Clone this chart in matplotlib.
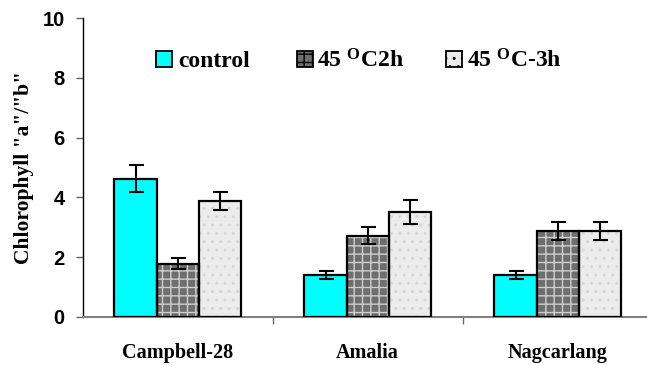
import matplotlib
matplotlib.use("Agg")
import matplotlib.pyplot as plt
import numpy as np
from matplotlib.patches import Rectangle

plt.rcParams['mathtext.fontset'] = 'custom'
plt.rcParams['mathtext.rm'] = 'Liberation Serif:bold'
plt.rcParams['mathtext.it'] = 'Liberation Serif:bold'
plt.rcParams['mathtext.bf'] = 'Liberation Serif:bold'

# Data
cultivars = ["Campbell-28", "Amalia", "Nagcarlang"]
series_names = ["control", r"45 $^{\mathrm{O}}$C2h", r"45 $^{\mathrm{O}}$C-3h"]
control = [4.63, 1.40, 1.40]
t45_2h = [1.78, 2.72, 2.88]
t45_3h = [3.88, 3.52, 2.88]
err_control = [0.45, 0.14, 0.14]
err_2h = [0.18, 0.28, 0.30]
err_3h = [0.30, 0.40, 0.30]
yticks = [0, 2, 4, 6, 8, 10]

W, H = 647, 365
fig = plt.figure(figsize=(W / 100, H / 100), dpi=100)
ax = fig.add_axes([82.7 / W, 48 / H, 570 / W, 299 / H])

centers = np.arange(len(cultivars)) + 0.5
bw = 0.222
values = [control, t45_2h, t45_3h]
errs = [err_control, err_2h, err_3h]
faces = ["#00ffff", "#6e6e6e", "#ececec"]
hatches = [None, "++", ".."]
hatch_cols = ["none", "#cfcfcf", "#d6d6d6"]

for i, (vals, e) in enumerate(zip(values, errs)):
    x = centers + (i - 1) * bw
    ax.bar(x, vals, bw, color=faces[i], hatch=hatches[i],
           edgecolor=hatch_cols[i], linewidth=0, zorder=2)
    ax.bar(x, vals, bw, fill=False, edgecolor="black", linewidth=1.6, zorder=3)
    ax.errorbar(x, vals, yerr=e, fmt="none", ecolor="black",
                elinewidth=1.5, capsize=5.4, capthick=1.5, zorder=4)

ax.set_xlim(0, 3)
ax.set_ylim(0, 10)
ax.set_yticks(yticks)
ax.set_yticklabels([str(v) for v in yticks], family="Liberation Sans",
                   fontweight="bold", fontsize=14.5)
ax.tick_params(axis="y", direction="out", length=5, width=1, color="#666666", pad=8)

ax.set_xticks(centers)
ax.set_xticklabels(cultivars, family="Liberation Serif", fontweight="bold", fontsize=14.5)
ax.tick_params(axis="x", length=0, pad=19)
ax.set_xticks([1, 2], minor=True)
ax.tick_params(axis="x", which="minor", direction="out", length=5, width=1, color="#666666")

for s in ["top", "right"]:
    ax.spines[s].set_visible(False)
ax.spines["left"].set_color("black")
ax.spines["left"].set_linewidth(1)
ax.spines["bottom"].set_color("#808080")
ax.spines["bottom"].set_linewidth(1.5)

ax.set_ylabel('Chlorophyll "a"/"b"', family="Liberation Serif", fontweight="bold",
              fontsize=15.5, labelpad=6)

# Legend drawn in figure pixel coordinates
leg_patch_x = [156, 297, 446]
leg_text_x = [178, 317, 467]
leg_base = 67
leg_size = 16
for i in range(3):
    r = Rectangle((leg_patch_x[i] / W, 1 - leg_base / H), leg_size / W, leg_size / H,
                  transform=fig.transFigure, facecolor=faces[i], hatch=hatches[i],
                  edgecolor="black", linewidth=1.3)
    fig.add_artist(r)
    fig.text(leg_text_x[i] / W, 1 - leg_base / H, series_names[i],
             family="Liberation Serif", fontweight="bold", fontsize=17,
             va="baseline", ha="left")

fig.savefig("out.png", dpi=100)
